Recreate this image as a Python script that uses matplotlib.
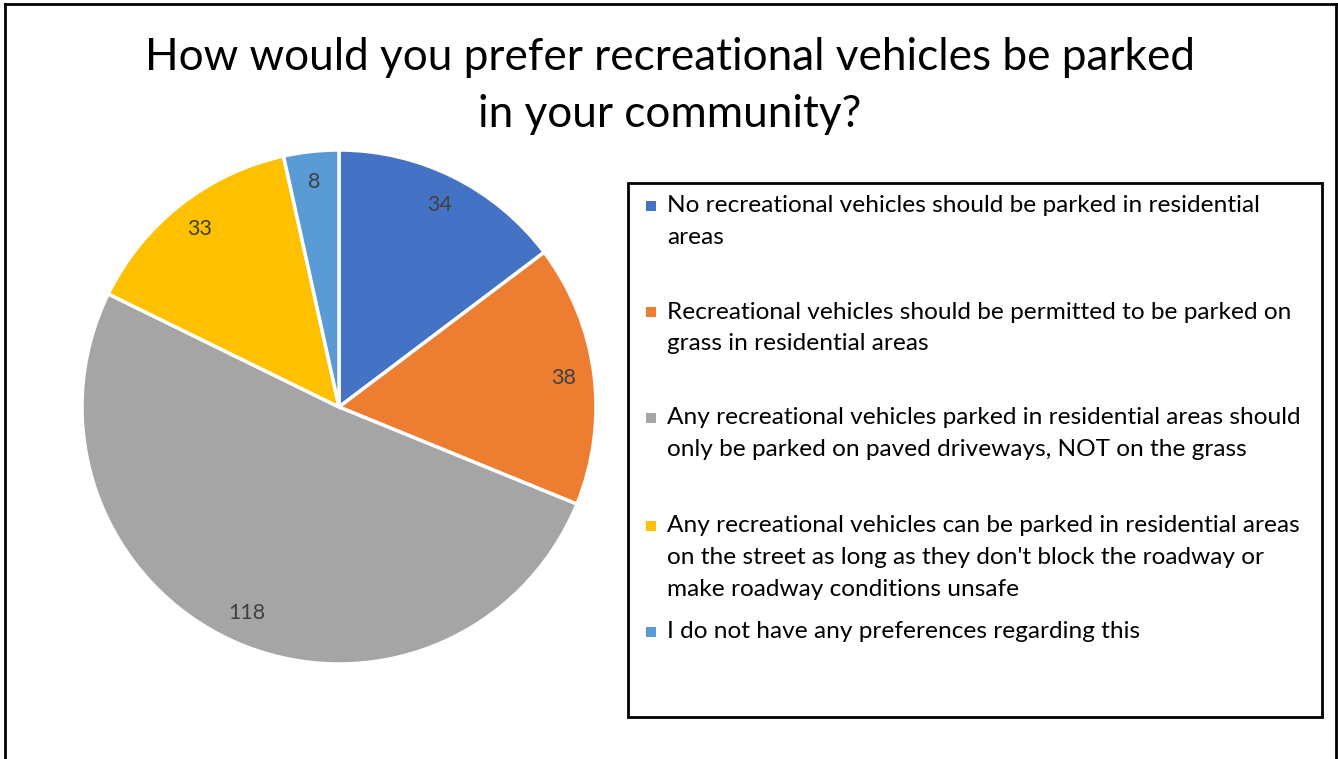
import matplotlib

matplotlib.use("Agg")
import matplotlib.pyplot as plt
from matplotlib.lines import Line2D
from matplotlib.patches import Rectangle

categories = [
    "No recreational vehicles should be parked in residential\nareas",
    "Recreational vehicles should be permitted to be parked on\ngrass in residential areas",
    "Any recreational vehicles parked in residential areas should\nonly be parked on paved driveways, NOT on the grass",
    "Any recreational vehicles can be parked in residential areas\non the street as long as they don't block the roadway or\nmake roadway conditions unsafe",
    "I do not have any preferences regarding this",
]
counts = [34, 38, 118, 33, 8]
colors = ["#4472C4", "#ED7D31", "#A5A5A5", "#FFC000", "#5B9BD5"]

W, H = 1338, 759
FONT = "Lato"


def fx(px):
    return px / W


def fy(py):
    return 1 - py / H


fig = plt.figure(figsize=(W / 100, H / 100), dpi=100)

# pie axes: centre (339, 407), radius 257 px
r = 257
ax = fig.add_axes([fx(339 - r), fy(407 + r), 2 * r / W, 2 * r / H])
ax.pie(
    counts,
    colors=colors,
    startangle=90,
    counterclock=False,
    radius=1,
    autopct=lambda p: f"{p * sum(counts) / 100:.0f}",
    pctdistance=0.88,
    wedgeprops=dict(edgecolor="white", linewidth=2.5),
    textprops=dict(fontsize=15.5, color="#404040", family=FONT),
)
ax.set_xlim(-1, 1)
ax.set_ylim(-1, 1)
ax.set_aspect("equal")
ax.axis("off")

fig.text(
    fx(670),
    fy(86),
    "How would you prefer recreational vehicles be parked\nin your community?",
    ha="center",
    va="center",
    fontsize=31.8,
    family=FONT,
    color="#000000",
    linespacing=1.5,
)

# legend frame
fig.add_artist(
    Rectangle(
        (fx(628), fy(717)),
        fx(1322) - fx(628),
        fy(183) - fy(717),
        transform=fig.transFigure,
        facecolor="none",
        edgecolor="black",
        linewidth=2,
    )
)

# legend entries
first_line_y = [206, 312, 418, 526, 632]
line_gap = 32
for label, color, y0 in zip(categories, colors, first_line_y):
    fig.add_artist(
        Rectangle(
            (fx(646), fy(y0 + 5)),
            10 / W,
            10 / H,
            transform=fig.transFigure,
            facecolor=color,
            edgecolor="none",
        )
    )
    for i, line in enumerate(label.split("\n")):
        fig.text(
            fx(667),
            fy(y0 + i * line_gap),
            line,
            ha="left",
            va="center",
            fontsize=17.6,
            family=FONT,
            color="#000000",
        )

# outer chart border
for xs, ys in [((5, 5), (4, 759)), ((5, 1336), (4, 4)), ((1336, 1336), (4, 759))]:
    fig.add_artist(
        Line2D([fx(x) for x in xs], [fy(y) for y in ys], color="black", linewidth=2, transform=fig.transFigure)
    )

fig.savefig("out.png", dpi=100, facecolor="white")
